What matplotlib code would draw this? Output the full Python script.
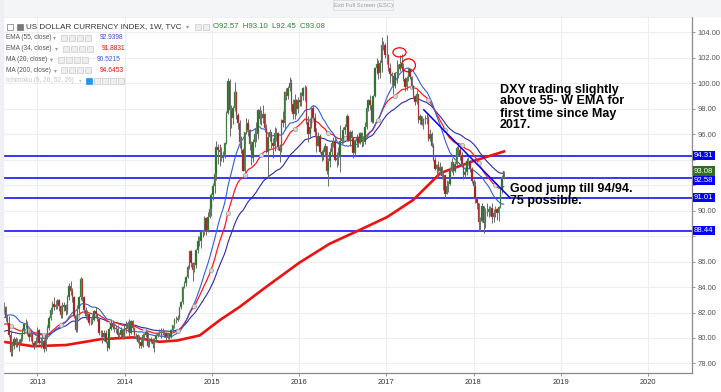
import numpy as np
import pandas as pd
import matplotlib
matplotlib.use('Agg')
import matplotlib.pyplot as plt
from matplotlib.patches import Rectangle, Ellipse

W, H = 721, 392
FONT = ['Liberation Sans', 'DejaVu Sans']

# weekly bars start on this Monday
first_week = '2012-08-06'

# weekly closes Aug 2011 - Aug 2012, only used to warm up the averages
hist_close = [74.3, 74.6, 74.0, 73.9, 74.6, 77.2, 76.4, 78.3, 78.6, 78.4, 76.8, 77.2, 75.7,
              76.8, 77.3, 77.9, 79.6, 78.3, 78.7, 80.2, 80.1, 80.2,
              81.2, 81.4, 80.1, 79.0, 78.9, 79.1, 79.0, 78.4, 79.5, 79.8, 79.6, 79.3, 78.9,
              79.8, 79.6, 79.1, 78.8, 79.6, 80.7, 81.3, 82.3, 83.0, 82.3, 81.6, 82.3, 81.6,
              83.0, 83.2, 83.4, 82.7, 82.4]

close = [
    # 2012
    82.5, 82.4, 81.6, 81.2, 80.2, 78.9, 79.4, 79.9, 79.6, 79.7, 79.6, 79.9, 80.6, 81.1,
    81.1, 80.3, 80.1, 80.3, 79.6, 79.4, 79.8,
    # 2013
    80.6, 79.6, 79.8, 79.8, 79.1, 80.2, 80.8, 81.6, 82.2, 82.7, 82.4, 82.6, 83.0, 82.5,
    81.8, 82.4, 82.6, 82.1, 83.2, 84.1, 83.7, 83.2, 81.7, 80.6, 82.3, 83.2, 84.6, 83.2,
    82.2, 81.7, 81.9, 81.2, 81.2, 81.4, 82.1, 81.9, 81.5, 80.4, 80.4, 80.1, 80.4, 79.7,
    79.2, 80.7, 81.2, 80.9, 80.8, 80.7, 80.2, 80.2, 80.6, 80.0,
    # 2014
    80.8, 80.7, 81.2, 80.4, 81.3, 80.8, 80.2, 80.2, 79.7, 79.7, 79.4, 80.2, 80.2, 80.5,
    79.4, 79.9, 79.8, 79.5, 79.9, 80.2, 80.4, 80.4, 80.5, 80.4, 80.4, 80.1, 80.3, 80.1,
    80.6, 81.0, 81.4, 81.4, 81.6, 82.4, 82.8, 84.0, 84.3, 84.8, 85.6, 86.8, 85.9, 85.3,
    85.7, 86.9, 87.6, 87.6, 88.3, 88.4, 89.4, 88.4, 89.5, 90.1,
    # 2015
    91.2, 91.9, 92.9, 95.0, 94.8, 94.6, 94.1, 94.4, 95.3, 97.7, 100.2, 97.9, 97.3, 98.1,
    99.3, 97.5, 96.9, 95.4, 94.8, 93.1, 96.2, 96.9, 96.3, 95.2, 94.1, 95.4, 96.0, 96.0,
    97.9, 97.2, 97.3, 97.6, 96.5, 94.6, 95.8, 96.2, 95.3, 95.1, 96.1, 96.1, 95.0, 94.7,
    97.1, 96.9, 99.3, 99.0, 99.6, 100.0, 98.4, 97.6, 98.7, 98.0,
    # 2016
    98.7, 98.5, 99.0, 99.6, 99.6, 97.0, 96.0, 96.6, 98.1, 97.3, 96.2, 95.1, 95.9, 94.6,
    94.2, 94.6, 95.1, 93.1, 93.9, 94.6, 95.3, 95.5, 94.0, 94.1, 94.2, 95.5, 95.6, 96.3,
    96.6, 97.4, 95.5, 96.2, 95.7, 94.5, 95.5, 95.8, 95.3, 96.1, 95.4, 95.4, 96.6, 98.1,
    98.7, 98.3, 97.0, 99.0, 101.2, 101.5, 100.8, 101.6, 103.0, 103.0, 102.2,
    # 2017
    102.2, 101.2, 100.7, 100.6, 99.8, 100.8, 100.9, 101.1, 101.5, 101.3, 100.3, 99.7,
    100.4, 101.1, 100.5, 99.8, 99.0, 98.5, 99.2, 97.1, 97.4, 96.7, 97.2, 97.2, 97.3, 95.6,
    96.0, 95.1, 94.0, 93.3, 93.6, 93.1, 93.4, 92.7, 92.8, 91.3, 91.9, 92.1, 93.1, 93.8,
    93.1, 93.7, 94.9, 94.8, 94.4, 93.7, 92.8, 93.0, 93.9, 93.9, 93.3, 92.3,
    # 2018
    91.9, 90.9, 90.6, 89.1, 89.2, 90.4, 89.0, 89.9, 89.9, 90.1, 90.2, 89.5, 89.8, 90.1,
    89.8, 90.3, 91.6, 92.57, 93.08,
]

high = [
    83.0, 82.8, 82.5, 81.9, 81.7, 80.6, 79.6, 80.1, 80.1, 80.0, 79.9, 80.3, 80.8, 81.2,
    81.5, 81.3, 80.4, 80.6, 80.4, 79.8, 80.1,
    80.9, 80.7, 80.1, 80.2, 79.9, 80.4, 81.0, 81.7, 82.4, 82.9, 83.2, 83.0, 83.1, 83.1,
    82.6, 82.8, 82.8, 82.7, 83.4, 84.3, 84.5, 83.9, 83.3, 81.8, 82.6, 83.3, 84.8, 84.7,
    83.3, 82.4, 82.2, 82.0, 81.6, 81.8, 82.2, 82.4, 81.9, 81.6, 80.6, 80.6, 80.6, 80.6,
    79.8, 80.9, 81.5, 81.4, 81.1, 81.0, 81.0, 80.5, 80.9, 80.7,
    81.0, 81.3, 81.3, 81.5, 81.4, 81.4, 80.9, 80.4, 80.3, 80.2, 80.0, 80.4, 80.4, 80.6,
    80.5, 80.0, 80.1, 80.0, 80.0, 80.3, 80.5, 80.7, 80.8, 80.8, 80.6, 80.5, 80.4, 80.4,
    80.7, 81.0, 81.6, 81.7, 81.8, 82.4, 82.9, 84.1, 84.5, 84.9, 85.7, 86.8, 86.9, 86.0,
    86.0, 87.0, 88.0, 88.0, 88.4, 88.5, 89.6, 89.5, 89.9, 90.3,
    91.4, 92.2, 93.0, 95.5, 95.2, 95.2, 95.0, 94.7, 95.4, 97.8, 100.4, 100.3, 98.3, 98.2,
    100.1, 99.4, 97.7, 97.1, 95.9, 94.9, 96.2, 97.3, 97.2, 96.4, 95.5, 95.6, 96.5, 97.0,
    98.0, 98.2, 97.9, 98.3, 97.7, 96.8, 96.2, 96.4, 96.2, 95.7, 96.6, 96.5, 96.2, 95.2,
    97.2, 97.8, 99.4, 99.6, 99.8, 100.5, 100.3, 98.8, 99.2, 98.8,
    98.9, 99.3, 99.3, 99.7, 99.9, 99.8, 97.4, 97.3, 98.2, 98.3, 97.7, 96.5, 96.2, 96.0,
    94.8, 94.9, 95.3, 95.1, 94.1, 94.9, 95.5, 95.8, 95.8, 94.6, 95.0, 96.7, 96.2, 96.6,
    96.8, 97.6, 97.4, 96.3, 96.3, 95.8, 95.6, 96.0, 95.9, 96.2, 96.2, 95.9, 97.0, 98.2,
    98.8, 99.1, 98.5, 99.1, 101.3, 102.0, 101.8, 101.8, 103.6, 103.3, 103.2,
    103.8, 102.3, 101.6, 100.9, 100.6, 100.9, 101.8, 101.5, 102.2, 102.3, 101.6, 100.5,
    100.6, 101.3, 101.1, 100.6, 99.9, 99.1, 99.5, 99.2, 97.6, 97.4, 97.3, 97.5, 97.6, 97.4,
    96.4, 96.2, 95.3, 94.2, 93.7, 93.9, 93.8, 93.5, 93.0, 92.8, 92.4, 92.3, 93.4, 94.1,
    93.8, 93.9, 95.1, 95.2, 95.0, 94.6, 93.7, 93.4, 94.1, 94.2, 94.0, 93.4,
    92.5, 92.3, 91.0, 90.6, 89.5, 90.6, 90.4, 90.2, 90.6, 90.4, 90.4, 90.6, 90.1, 90.4,
    90.2, 90.4, 91.8, 92.8, 93.10,
]

low = [
    82.0, 81.9, 81.3, 81.0, 80.1, 78.6, 78.6, 79.1, 79.3, 79.3, 79.0, 79.5, 79.8, 80.3,
    80.8, 80.2, 79.8, 79.8, 79.5, 79.1, 79.3,
    79.6, 79.5, 79.2, 79.4, 78.9, 79.0, 79.9, 80.6, 81.4, 81.9, 82.2, 82.3, 82.3, 82.1,
    81.6, 81.6, 82.1, 81.8, 81.9, 83.0, 83.4, 82.8, 81.6, 80.5, 80.5, 82.0, 83.0, 82.9,
    82.0, 81.5, 81.4, 81.0, 81.0, 81.1, 81.3, 81.6, 81.3, 80.2, 80.1, 79.6, 79.8, 79.6,
    79.0, 79.1, 80.6, 80.7, 80.5, 80.4, 80.1, 79.9, 80.1, 79.9,
    79.9, 80.4, 80.5, 80.1, 80.3, 80.6, 80.0, 79.9, 79.6, 79.2, 79.2, 79.3, 79.9, 80.1,
    79.3, 79.3, 79.6, 79.2, 78.9, 79.8, 80.1, 80.2, 80.0, 80.2, 80.1, 79.8, 79.9, 79.9,
    80.0, 80.5, 80.8, 81.2, 81.3, 81.5, 82.3, 82.7, 83.9, 84.1, 84.7, 85.4, 85.6, 84.5,
    85.2, 85.5, 86.7, 87.2, 87.1, 87.9, 88.1, 88.1, 88.3, 89.4,
    89.6, 90.8, 91.4, 92.4, 93.7, 93.5, 93.9, 93.8, 94.1, 95.2, 97.6, 95.9, 96.5, 96.8,
    97.8, 97.2, 96.4, 94.9, 94.5, 93.1, 93.0, 96.0, 95.9, 94.8, 93.6, 93.8, 95.0, 95.4,
    95.6, 96.8, 96.7, 96.9, 96.2, 94.5, 92.6, 95.5, 94.9, 94.1, 94.7, 95.5, 94.8, 93.8,
    94.6, 96.6, 96.3, 98.7, 98.8, 99.4, 97.8, 97.2, 97.2, 97.5,
    97.7, 98.2, 98.2, 98.7, 98.6, 96.8, 95.4, 95.8, 96.5, 97.2, 95.9, 94.6, 95.1, 94.5,
    93.9, 94.0, 94.3, 92.9, 91.9, 93.4, 94.3, 95.0, 93.9, 93.4, 93.6, 93.0, 95.2, 95.3,
    96.0, 96.4, 95.5, 95.1, 95.5, 94.1, 94.3, 95.0, 95.0, 95.2, 95.0, 95.1, 95.2, 96.4,
    97.8, 97.9, 96.9, 96.9, 98.9, 100.7, 100.3, 100.4, 100.9, 102.6, 102.0,
    101.5, 101.0, 100.0, 99.9, 99.2, 99.6, 100.0, 100.4, 101.0, 101.0, 100.2, 99.4,
    99.5, 100.2, 100.3, 99.6, 98.8, 98.3, 98.4, 96.9, 96.8, 96.7, 96.4, 96.8, 96.8, 95.5,
    95.5, 95.0, 93.9, 93.2, 92.6, 93.0, 92.8, 92.5, 91.6, 91.0, 91.3, 91.5, 92.0, 93.0,
    92.8, 93.0, 93.6, 94.3, 94.0, 93.4, 92.5, 92.6, 92.8, 93.6, 93.0, 92.2,
    91.7, 90.6, 90.1, 88.4, 88.4, 89.1, 88.25, 88.6, 89.6, 89.5, 89.6, 89.0, 89.1, 89.5,
    89.3, 89.2, 90.2, 91.4, 92.45,
]

# 200-week MA (fractional year, value)
ma200_year = [2012.61, 2012.95, 2013.33, 2013.72, 2014.10, 2014.40, 2014.60, 2014.86,
              2015.09, 2015.32, 2015.60, 2016.00, 2016.35, 2016.70, 2017.01, 2017.31,
              2017.62, 2018.00, 2018.35]
ma200_val = [79.7, 79.35, 79.45, 79.9, 80.05, 79.7, 79.8, 80.2,
             81.4, 82.45, 83.9, 85.9, 87.4, 88.5, 89.5, 90.85,
             92.95, 93.9, 94.65]

level_vals = [94.31, 92.58, 91.01, 88.44]
last_price = 93.08

trend_year = [2017.43, 2018.42]
trend_val = [97.92, 91.0]

ring_year = [2017.151, 2017.254]
ring_val = [102.43, 101.41]

legend_names = ['EMA (55, close)', 'EMA (34, close)', 'MA (20, close)', 'MA (200, close)']
legend_vals = ['92.9398', '91.8831', '90.5215', '94.6453']
legend_cols = ['#4646c8', '#ee1111', '#3a62d6', '#ee1111']

note_1 = 'DXY trading slightly\nabove 55- W EMA for\nfirst time since May\n2017.'
note_2 = 'Good jump till 94/94.\n75 possible.'

years = list(range(2013, 2021))
price_ticks = list(range(78, 106, 2))
hidden_ticks = [88, 92, 94]   # covered by the price boxes

# ---------------------------------------------------------------------------
dates = pd.date_range(first_week, periods=len(close), freq='W-MON')
days = np.where(dates.is_leap_year, 366, 365)
x = np.asarray(dates.year + (dates.dayofyear - 1) / days, dtype=float)
c = np.array(close)
o = np.r_[hist_close[-1], c[:-1]]
hi = np.array(high)
lo = np.array(low)

allc = pd.Series(hist_close + close)
n0 = len(hist_close)
ema55 = allc.ewm(span=55, adjust=True).mean().values[n0:]
ema34 = allc.ewm(span=34, adjust=True).mean().values[n0:]
ma20 = allc.rolling(20).mean().values[n0:]


def fx(px):
    return px / W


def fy(py):
    return 1 - py / H


def icon_boxes(x0, yc, n, first_col=None):
    # the little grey settings buttons TradingView puts after each legend row
    for b in range(n):
        fc, ec = '#eeeeee', '#c8c8c8'
        if b == 0 and first_col:
            fc = ec = first_col
        fig.patches.append(Rectangle((fx(x0 + b * 8), fy(yc + 3)), fx(6), 6 / H,
                                     transform=fig.transFigure, fc=fc, ec=ec, lw=0.5))


fig = plt.figure(figsize=(W / 100, H / 100), dpi=100)
fig.patch.set_facecolor('white')
fig.patches.append(Rectangle((0, fy(15.5)), 1, 15.5 / H, transform=fig.transFigure,
                             color='#f3f5f7', zorder=0))
fig.patches.append(Rectangle((0, 0), fx(3), 1, transform=fig.transFigure,
                             color='#eef0f3', zorder=0))

ax = fig.add_axes([fx(3), fy(373), fx(692.3 - 3), (373 - 15.7) / H])
ax.set_xlim(2012.6044, 2020.509)
ax.set_ylim(77.25, 105.31)

ax.grid(True, color='#eceef1', lw=0.8)
ax.set_axisbelow(True)
ax.set_xticks(years)
ax.set_yticks(price_ticks)
ax.yaxis.tick_right()
ax.set_xticklabels([str(y) for y in years], fontsize=5.4, color='#333333', family=FONT)
ax.set_yticklabels(['' if v in hidden_ticks else '%.2f' % v for v in price_ticks],
                   fontsize=5.4, color='#555555', family=FONT)
ax.tick_params(axis='both', length=2.5, width=0.6, color='#888888', pad=1.5)
ax.spines['left'].set_visible(False)
for side in ['right', 'bottom', 'top']:
    ax.spines[side].set_color('#8a8a8a')
    ax.spines[side].set_linewidth(0.9)

# horizontal levels
for v in level_vals:
    ax.axhline(v, color='#0000ff', lw=1.1, zorder=2)

# moving averages
ax.plot(ma200_year, ma200_val, color='#ee1111', lw=1.9, zorder=3)
ax.plot(x, ema55, color='#2a2aa8', lw=0.8, zorder=3)
ax.plot(x, ema34, color='#ff1a1a', lw=0.9, zorder=3)
ax.plot(x, ma20, color='#2f5fd8', lw=0.8, zorder=3)
ax.plot(x[5::10], ema34[5::10], 'o', ms=3, mfc='#d8d8d8', mec='#9a9a9a', mew=0.5, zorder=4)

# candles
bw = 0.85 * 7 / 365
up = c >= o
ax.vlines(x, lo, hi, color='#6a6a6a', lw=0.7, zorder=5)
ax.bar(x[up], (c - o)[up], bottom=o[up], width=bw, color='#1c6e1c', ec='#7a9a7a',
       lw=0.25, zorder=6)
ax.bar(x[~up], (o - c)[~up], bottom=c[~up], width=bw, color='#a81414', ec='#a07a7a',
       lw=0.25, zorder=6)

# drawings
ax.plot(trend_year, trend_val, color='#0000ff', lw=1.1, zorder=7)
ax.add_patch(Ellipse((ring_year[0], ring_val[0]), 0.15, 0.72, fill=False,
                     ec='#ff0000', lw=0.9, zorder=8))
ax.add_patch(Ellipse((ring_year[1], ring_val[1]), 0.16, 1.02, fill=False,
                     ec='#ff0000', lw=0.9, zorder=8))

fig.text(fx(500), fy(83.5), note_1, fontsize=9, fontweight='bold', family=FONT,
         va='top', ha='left', linespacing=1.0)
fig.text(fx(510), fy(182.5), note_2, fontsize=9, fontweight='bold', family=FONT,
         va='top', ha='left', linespacing=1.0)

# price labels on the right axis
label_offset = {92.58: -2.0}
for v in level_vals:
    ax.annotate('%.2f' % v, xy=(1.0, v), xycoords=('axes fraction', 'data'),
                xytext=(1.2, label_offset.get(v, 0)), textcoords='offset points',
                ha='left', va='center', fontsize=5.6, color='white', family=FONT,
                bbox=dict(boxstyle='square,pad=0.15', fc='#0000ff', ec='none'),
                annotation_clip=False, zorder=10)
ax.annotate('%.2f' % last_price, xy=(1.0, last_price), xycoords=('axes fraction', 'data'),
            xytext=(1.2, 0.3), textcoords='offset points', ha='left', va='center',
            fontsize=5.6, color='white', family=FONT,
            bbox=dict(boxstyle='square,pad=0.15', fc='#2e6e1e', ec='none'),
            annotation_clip=False, zorder=11)

# header / legend block
fig.text(fx(363), fy(5), 'Exit Full Screen (ESC)', fontsize=4.2, color='#9a9a9a',
         family=FONT, ha='center', va='center')
fig.patches.append(Rectangle((fx(333), fy(10)), fx(60), 10 / H, transform=fig.transFigure,
                             fill=False, ec='#d6d9dc', lw=0.5))
fig.text(fx(26), fy(26.5), 'US DOLLAR CURRENCY INDEX, 1W, TVC', fontsize=5.8,
         color='#333333', family=FONT, va='center')
fig.text(fx(186), fy(26.5), '\u25be', fontsize=4.5, color='#999999', family=FONT,
         va='center')
icon_boxes(195, 26.5, 2)
fig.text(fx(213), fy(26.5), 'O92.57  H93.10  L92.45  C93.08', fontsize=5.6,
         color='#2e7d32', family=FONT, va='center')
for k, box_x in enumerate([7, 17]):
    fig.patches.append(Rectangle((fx(box_x), fy(30)), fx(6), 6 / H, transform=fig.transFigure,
                                 fc='white' if k == 0 else '#777777', ec='#777777', lw=0.5))

rows_y = [37.7, 48.7, 59.7, 70.3]
arrow_x = [53, 55, 50, 54]
boxes_x = [61, 63, 58, 61]
value_x = [99.3, 101.7, 96.7, 100]
for i, (name, val, col) in enumerate(zip(legend_names, legend_vals, legend_cols)):
    ry = rows_y[i]
    fig.text(fx(6), fy(ry), name, fontsize=4.7, color='#555555', family=FONT, va='center')
    fig.text(fx(arrow_x[i]), fy(ry), '\u25be', fontsize=4.2, color='#999999', family=FONT,
             va='center')
    icon_boxes(boxes_x[i], ry, 4)
    fig.text(fx(value_x[i]), fy(ry), val, fontsize=4.8, color=col, family=FONT, va='center')
fig.text(fx(6), fy(80.5), 'Ichimoku (9, 26, 52, 26)', fontsize=4.7, color='#c4c4c4',
         family=FONT, va='center')
fig.text(fx(79), fy(80.5), '\u25be', fontsize=4.2, color='#cccccc', family=FONT, va='center')
icon_boxes(86, 80.5, 5, first_col='#2196f3')

fig.savefig('out.png', dpi=100)
